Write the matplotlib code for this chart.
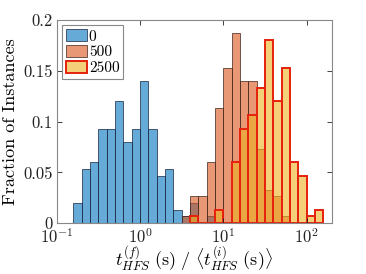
import numpy as np
import matplotlib
matplotlib.use('Agg')
import matplotlib.pyplot as plt

plt.rcParams['font.family'] = 'serif'
plt.rcParams['font.serif'] = ['cmr10']
plt.rcParams['mathtext.fontset'] = 'cm'
plt.rcParams['axes.formatter.use_mathtext'] = True

# bin edges in log10, step 0.1; values are fraction of instances per bin
blue_start = -0.8
blue_vals = [0.02, 0.053, 0.06, 0.093, 0.093, 0.12, 0.08, 0.093, 0.14, 0.093,
             0.047, 0.053, 0.013, 0.0067, 0.02, 0.0, 0.0067]
orange_start = 0.5
orange_vals = [0.0067, 0.027, 0.027, 0.06, 0.113, 0.153, 0.187, 0.14, 0.14,
               0.073, 0.033, 0.027, 0.0067]
yellow_start = 0.6
yellow_vals = [0.0067, 0.0, 0.0, 0.013, 0.0, 0.06, 0.093, 0.107, 0.133, 0.18,
               0.12, 0.153, 0.06, 0.047, 0.0067, 0.013]
labels = ['0', '500', '2500']

c_blue = (0.0, 0.447, 0.741, 0.6)
c_orange = (0.85, 0.325, 0.098, 0.6)
c_yellow = (0.929, 0.694, 0.125, 0.6)


def edges(start, n):
    e = 10 ** (start + 0.1 * np.arange(n + 1))
    return e[:-1], np.diff(e)


fig = plt.figure(figsize=(3.66, 2.74), dpi=100)
ax = fig.add_axes([0.155, 0.185, 0.751, 0.742])

x, w = edges(blue_start, len(blue_vals))
ax.bar(x, blue_vals, width=w, align='edge', facecolor=c_blue,
       edgecolor=(0.1, 0.15, 0.25, 0.85), linewidth=0.6, label=labels[0])
x, w = edges(orange_start, len(orange_vals))
ax.bar(x, orange_vals, width=w, align='edge', facecolor=c_orange,
       edgecolor=(0.25, 0.15, 0.12, 0.85), linewidth=0.6, label=labels[1])
x, w = edges(yellow_start, len(yellow_vals))
ax.bar(x, yellow_vals, width=w, align='edge', facecolor=c_yellow,
       edgecolor=(0.9, 0.13, 0.05), linewidth=1.4, label=labels[2])

ax.set_xscale('log')
ax.set_xlim(0.1, 200)
ax.set_ylim(0, 0.2)
ax.set_xticks([0.1, 1, 10, 100])
ax.set_yticks([0, 0.05, 0.1, 0.15, 0.2])
ax.set_yticklabels(['0', '0.05', '0.1', '0.15', '0.2'])
ax.minorticks_off()
ax.tick_params(direction='in', top=True, right=True, length=3.5, width=0.6,
               labelsize=12, colors='#222222', pad=3)
ax.tick_params(axis='x', pad=2.5)
for s in ax.spines.values():
    s.set_color('#888888')
    s.set_linewidth(0.8)

ax.set_ylabel('Fraction of Instances', fontsize=13, labelpad=4)
ax.set_xlabel(r'$t_{HFS}^{(f)}\ \mathrm{(s)}\ /\ \langle t_{HFS}^{(i)}\ \mathrm{(s)}\rangle$',
              fontsize=13, labelpad=-1)

leg = ax.legend(loc='upper left', fontsize=11, fancybox=False, framealpha=1,
                edgecolor='#888888', handlelength=1.35, handleheight=0.85,
                handletextpad=0.15, borderpad=0.25, labelspacing=0.1,
                borderaxespad=0.35)
leg.get_frame().set_linewidth(0.8)

fig.savefig('out.png', dpi=100)
